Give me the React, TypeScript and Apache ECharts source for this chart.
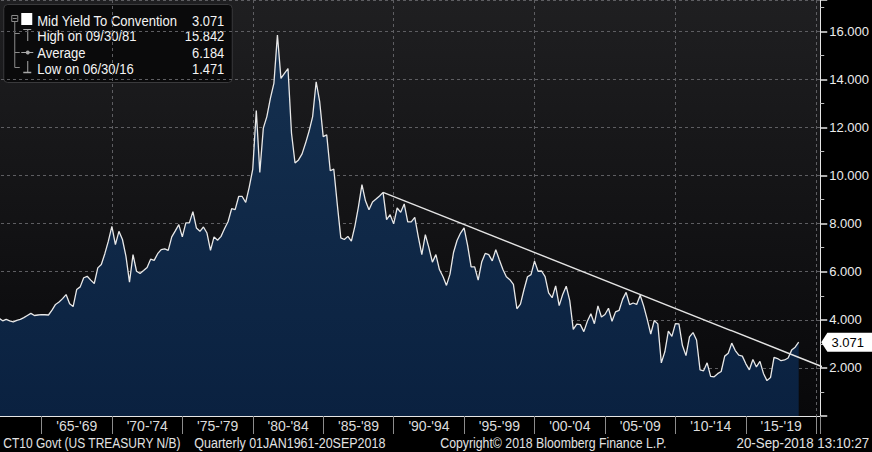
import React, { useEffect, useRef } from "react";
import * as echarts from "echarts";

// Quarter-end 10Y yields, first value = 31 Mar 1961, last = 20 Sep 2018
const START_YEAR = 1961;
const yields = [
  3.78, 3.8, 3.95, 4.06,
  3.96, 4.02, 3.96, 3.91,
  3.98, 4.02, 4.09, 4.18,
  4.27, 4.18, 4.2, 4.22,
  4.21, 4.2, 4.4, 4.64,
  4.74, 4.88, 5.05, 4.67,
  4.55, 5.26, 5.37, 5.75,
  5.81, 5.65, 5.51, 6.16,
  6.3, 6.75, 7.27, 7.89,
  7.13, 7.68, 7.34, 6.64,
  5.57, 6.71, 6.02, 5.93,
  6.05, 6.18, 6.52, 6.47,
  6.75, 6.92, 6.95, 6.89,
  7.45, 7.7, 7.96, 7.45,
  8.03, 8.03, 8.5, 7.82,
  7.68, 7.86, 7.61, 6.89,
  7.45, 7.31, 7.47, 7.8,
  8.09, 8.62, 8.58, 9.13,
  9.13, 8.88, 9.52, 10.27,
  12.7, 10.13, 11.97, 12.45,
  13.21, 13.83, 15.842, 14.04,
  14.25, 14.45, 11.76, 10.52,
  10.65, 10.9, 11.35, 11.85,
  12.45, 13.9, 13.07, 11.62,
  11.69, 10.2, 10.27, 8.8,
  7.41, 7.34, 7.47, 7.27,
  7.9, 8.7, 9.62, 8.95,
  8.58, 8.9, 9.02, 9.15,
  9.3, 8.17, 8.37, 7.99,
  8.65, 8.47, 8.82, 8.07,
  8.07, 8.26, 7.45, 6.71,
  7.54, 7.0, 6.4, 6.71,
  6.09, 5.8, 5.43, 5.9,
  6.8, 7.3, 7.61, 7.82,
  7.1, 6.2, 6.2, 5.65,
  6.4, 6.76, 6.71, 6.45,
  6.92, 6.5, 6.1, 5.79,
  5.67, 5.47, 4.46, 4.65,
  5.25, 5.79, 5.88, 6.44,
  6.02, 6.03, 5.8, 5.12,
  4.92, 5.41, 4.59, 5.05,
  5.4, 4.8, 3.6, 3.82,
  3.8, 3.51, 3.94, 4.25,
  3.84, 4.58, 4.12, 4.22,
  4.48, 3.94, 4.33, 4.39,
  4.85, 5.14, 4.63, 4.7,
  4.64, 5.02, 4.57, 4.02,
  3.41, 3.97, 3.83, 2.21,
  2.67, 3.53, 3.31, 3.84,
  3.83, 2.93, 2.51, 3.29,
  3.47, 3.16, 1.92, 1.88,
  2.21, 1.65, 1.63, 1.76,
  1.85, 2.49, 2.61, 3.03,
  2.72, 2.53, 2.49, 2.17,
  1.92, 2.35, 2.04, 2.27,
  1.77, 1.471, 1.6, 2.44,
  2.39, 2.3, 2.33, 2.41,
  2.74, 2.86, 3.071,
];

// Hand-drawn trend line (year, value)
const trendX = [1989.25, 2020.72];
const trendY = [9.3, 1.98];

const lastValueLabel = "3.071";

const legendNames = [
  "Mid Yield To Convention",
  "High on 09/30/81",
  "Average",
  "Low on 06/30/16",
];
const legendValues = ["3.071", "15.842", "6.184", "1.471"];

const periodStarts = [1965, 1970, 1975, 1980, 1985, 1990, 1995, 2000, 2005, 2010, 2015];
const periodLabels = [
  "'65-'69", "'70-'74", "'75-'79", "'80-'84", "'85-'89", "'90-'94",
  "'95-'99", "'00-'04", "'05-'09", "'10-'14", "'15-'19",
];
const yTickValues = [2, 4, 6, 8, 10, 12, 14, 16];

const footerLeft = "CT10 Govt (US TREASURY N/B)";
const footerRange = "Quarterly 01JAN1961-20SEP2018";
const footerCopyright = "Copyright\u00A9 2018 Bloomberg Finance L.P.";
const footerStamp = "20-Sep-2018 13:10:27";

const FONT = "'Liberation Sans', Arial, sans-serif";
// the visible window starts in 1962; the chart canvas extends this far left of the page
const SHIFT = 32.26;

export default function App() {
  const ref = useRef<HTMLDivElement>(null);

  useEffect(() => {
    if (!ref.current) return;
    const chart = echarts.init(ref.current, undefined, { renderer: "svg" });

    const points = yields.map((v, i) => [START_YEAR + 0.25 + i * 0.25, v]);
    const xMin = 1960;
    const xMax = 2020.28;

    const treeColor = "#8a8a8a";
    const iconColor = "#a8a8a8";
    const legendRowY = [20.5, 36, 52.5, 68.5];

    const legendItems: any[] = [
      {
        type: "rect",
        shape: { x: 3.5, y: 4.5, width: 228.5, height: 78, r: 4 },
        style: { fill: "#0a0a0b", stroke: "#3a3a3c", lineWidth: 1 },
      },
      { type: "rect", shape: { x: 11.5, y: 15.5, width: 6, height: 6 }, style: { fill: "none", stroke: treeColor, lineWidth: 1 } },
      { type: "line", shape: { x1: 12.5, y1: 18.5, x2: 16.5, y2: 18.5 }, style: { stroke: treeColor, lineWidth: 1 } },
      { type: "line", shape: { x1: 14.5, y1: 21.5, x2: 14.5, y2: 67.5 }, style: { stroke: treeColor, lineWidth: 1 } },
      { type: "line", shape: { x1: 14.5, y1: 33.5, x2: 19.5, y2: 33.5 }, style: { stroke: treeColor, lineWidth: 1 } },
      { type: "line", shape: { x1: 14.5, y1: 52.5, x2: 19.5, y2: 52.5 }, style: { stroke: treeColor, lineWidth: 1 } },
      { type: "line", shape: { x1: 14.5, y1: 67.5, x2: 19.5, y2: 67.5 }, style: { stroke: treeColor, lineWidth: 1 } },
      { type: "rect", shape: { x: 21, y: 13, width: 11, height: 12 }, style: { fill: "#ffffff" } },
      { type: "line", shape: { x1: 23, y1: 29.5, x2: 31, y2: 29.5 }, style: { stroke: iconColor, lineWidth: 1 } },
      { type: "line", shape: { x1: 27.5, y1: 29.5, x2: 27.5, y2: 41 }, style: { stroke: iconColor, lineWidth: 1 } },
      { type: "line", shape: { x1: 21, y1: 52.5, x2: 33, y2: 52.5 }, style: { stroke: iconColor, lineWidth: 1 } },
      { type: "circle", shape: { cx: 27.5, cy: 52.5, r: 2 }, style: { fill: iconColor } },
      { type: "line", shape: { x1: 27.5, y1: 61, x2: 27.5, y2: 72 }, style: { stroke: iconColor, lineWidth: 1 } },
      { type: "line", shape: { x1: 23, y1: 72.5, x2: 31, y2: 72.5 }, style: { stroke: iconColor, lineWidth: 1.5 } },
    ];
    legendNames.forEach((name, i) => {
      legendItems.push({
        type: "text",
        x: 37,
        y: legendRowY[i],
        scaleX: 0.87,
        style: { text: name, fill: "#f4f4f4", font: `15px ${FONT}`, textVerticalAlign: "middle", textAlign: "left" },
      });
      legendItems.push({
        type: "text",
        x: 224,
        y: legendRowY[i],
        scaleX: 0.86,
        style: { text: legendValues[i], fill: "#f4f4f4", font: `15px ${FONT}`, textVerticalAlign: "middle", textAlign: "right" },
      });
    });

    const footerStyle = (text: string, align: string) => ({
      text,
      fill: "#e2e2e2",
      font: `15px ${FONT}`,
      textVerticalAlign: "middle",
      textAlign: align,
    });
    const footerItems = [
      { type: "text", x: 3, y: 443, scaleX: 0.8, style: footerStyle(footerLeft, "left") },
      { type: "text", x: 194, y: 443, scaleX: 0.835, style: footerStyle(footerRange, "left") },
      { type: "text", x: 440, y: 443, scaleX: 0.82, style: footerStyle(footerCopyright, "left") },
      { type: "text", x: 869, y: 443, scaleX: 0.89, style: footerStyle(footerStamp, "right") },
    ];

    const gridLine = { show: true, lineStyle: { color: "#5e5e62", type: [3, 3], width: 1 } };

    chart.setOption({
      animation: false,
      backgroundColor: "#000000",
      grid: {
        left: 0,
        right: 51.3,
        top: 0,
        bottom: 36,
        show: true,
        borderWidth: 0,
        backgroundColor: new echarts.graphic.LinearGradient(0, 0, 0, 1, [
          { offset: 0, color: "#1f1f21" },
          { offset: 1, color: "#08080a" },
        ]),
      },
      xAxis: [
        {
          type: "value",
          min: xMin,
          max: xMax,
          interval: 10,
          axisLine: { show: true, onZero: false, lineStyle: { color: "#e6e6e6", width: 1 } },
          axisTick: { show: false },
          axisLabel: { show: false },
          splitLine: gridLine,
        },
        {
          type: "value",
          min: xMin,
          max: xMax,
          interval: 5,
          position: "bottom",
          axisLine: { show: false },
          axisTick: { show: true, length: 18, lineStyle: { color: "#8c8c8c", width: 1 } },
          splitLine: { show: false },
          axisLabel: {
            show: true,
            color: "#dcdcdc",
            fontFamily: FONT,
            fontSize: 14,
            margin: 3,
            align: "center",
            padding: [0, 0, 0, 70.7],
            formatter: (v: number) => {
              const idx = periodStarts.indexOf(Math.round(v * 100) / 100);
              return idx >= 0 ? periodLabels[idx] : "";
            },
          },
        },
      ],
      yAxis: {
        type: "value",
        position: "right",
        min: 0,
        max: 17.3,
        interval: 2,
        axisLine: { show: true, lineStyle: { color: "#e6e6e6", width: 1 } },
        axisTick: { show: true, length: 7, lineStyle: { color: "#e6e6e6", width: 1.5 } },
        minorTick: { show: true, splitNumber: 2, length: 4, lineStyle: { color: "#bdbdbd", width: 1 } },
        minorSplitLine: { show: false },
        axisLabel: {
          color: "#ececec",
          fontFamily: FONT,
          fontSize: 13,
          margin: 9,
          formatter: (v: number) => (yTickValues.indexOf(v) >= 0 ? v.toFixed(3) : ""),
        },
        splitLine: gridLine,
      },
      series: [
        {
          type: "line",
          xAxisIndex: 0,
          data: points,
          symbol: "none",
          clip: true,
          z: 2,
          lineStyle: { color: "#e8e8e8", width: 1.3 },
          areaStyle: {
            color: new echarts.graphic.LinearGradient(0, 0, 0, 1, [
              { offset: 0, color: "#15304f" },
              { offset: 1, color: "#0a2140" },
            ]),
            opacity: 1,
          },
          markPoint: {
            symbol: "path://M0,9.5 L6,0 L50,0 L50,19 L6,19 Z",
            symbolSize: [51, 19],
            symbolKeepAspect: false,
            symbolOffset: [26.5, 0],
            itemStyle: { color: "#ffffff" },
            label: {
              show: true,
              color: "#000000",
              fontFamily: FONT,
              fontSize: 13,
              offset: [1, 0],
              formatter: lastValueLabel,
            },
            data: [{ coord: [xMax, yields[yields.length - 1]] }],
          },
        },
        {
          type: "line",
          xAxisIndex: 0,
          data: trendX.map((x, i) => [x, trendY[i]]),
          symbol: "none",
          clip: false,
          z: 3,
          lineStyle: { color: "#e4e4e4", width: 1.4 },
        },
      ],
      graphic: [
        { type: "group", x: SHIFT, y: 0, z: 100, children: legendItems },
        { type: "group", x: SHIFT, y: 0, z: 50, children: footerItems },
      ],
    });

    return () => chart.dispose();
  }, []);

  return (
    <div
      ref={ref}
      style={{ position: "fixed", left: -SHIFT, top: 0, width: 872 + SHIFT, height: 452, background: "#000" }}
    />
  );
}
